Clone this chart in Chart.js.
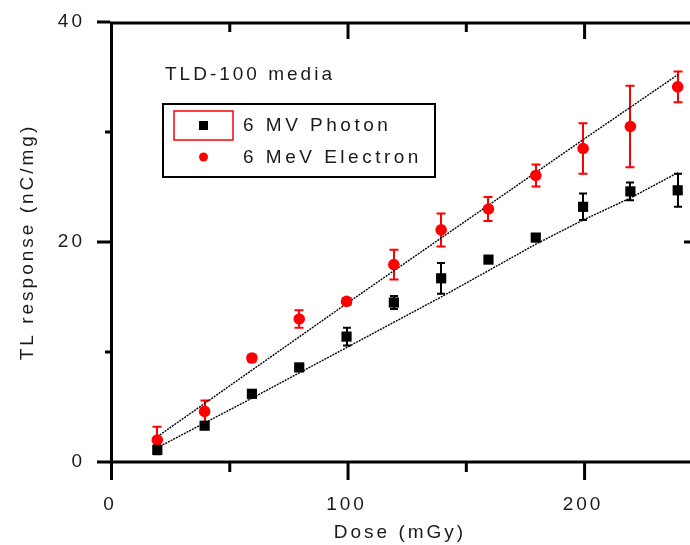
<!DOCTYPE html>
<html>
<head>
<meta charset="utf-8">
<script src="https://cdn.jsdelivr.net/npm/chart.js"></script>
<style>
  body { margin: 0; background: #fff; }
  #wrap { position: relative; width: 690px; height: 545px; }
</style>
</head>
<body>
<div id="wrap"><canvas id="grafico" width="690" height="545"></canvas></div>
<script>
// dados
const doses = [20, 40, 60, 80, 100, 120, 140, 160, 180, 200, 220, 240];
const photon = [1.1, 3.3, 6.2, 8.6, 11.4, 14.5, 16.7, 18.4, 20.4, 23.2, 24.6, 24.7];
const photonErr = [0.4, 0.2, 0.2, 0.3, 0.8, 0.6, 1.4, 0.3, 0.3, 1.2, 0.8, 1.5];
const electron = [2.0, 4.6, 9.45, 13.0, 14.6, 17.95, 21.1, 23.0, 26.05, 28.5, 30.5, 34.1];
const electronErr = [1.2, 1.0, 0.3, 0.8, 0.3, 1.35, 1.5, 1.1, 1.0, 2.3, 3.7, 1.4];

const photonFitX = [20, 60, 100, 140, 180, 200, 220, 240];
const photonFitY = [1.3, 5.8, 10.4, 15.0, 19.8, 22.0, 24.0, 26.3];
const electronFitX = [20, 100, 200, 240];
const electronFitY = [2.3, 14.4, 29.3, 35.2];

const xTicks = [0, 50, 100, 150, 200];
const xLabels = [0, 100, 200];
const yTicks = [0, 10, 20, 30, 40];
const yLabels = [0, 20, 40];

const legendTitle = 'TLD-100 media';
const fonte = 'Arial, "Liberation Sans", sans-serif';
const corTexto = '#1a1a1a';

function pontos(xs, ys) {
    return xs.map((x, i) => ({ x: x, y: ys[i] }));
}

// espaçamento entre letras, como na figura original
const espacamento = {
    id: 'espacamento',
    beforeDraw(chart) {
        chart.ctx.letterSpacing = '3px';
    }
};

// moldura e marcas dos eixos
const moldura = {
    id: 'moldura',
    afterDraw(chart) {
        const ctx = chart.ctx;
        const a = chart.chartArea;
        const sx = chart.scales.x;
        const sy = chart.scales.y;
        ctx.save();
        ctx.strokeStyle = '#000';
        ctx.lineWidth = 3;
        ctx.beginPath();
        ctx.moveTo(a.left + 1.5, a.top);
        ctx.lineTo(a.left + 1.5, a.bottom + 1.5);
        ctx.moveTo(a.left, a.bottom);
        ctx.lineTo(a.right, a.bottom);
        ctx.moveTo(a.left, a.top + 1);
        ctx.lineTo(a.right, a.top + 1);
        ctx.stroke();

        ctx.beginPath();
        yTicks.forEach(v => {
            const y = sy.getPixelForValue(v);
            const maior = yLabels.includes(v);
            ctx.moveTo(a.left - (maior ? 13 : 5), y);
            ctx.lineTo(a.left, y);
            if (maior && v > 0 && v < 40) {
                ctx.moveTo(a.right - 6, y);
                ctx.lineTo(a.right, y);
            }
        });
        xTicks.forEach(v => {
            const x = sx.getPixelForValue(v) + 1.5;
            const maior = xLabels.includes(v);
            ctx.moveTo(x, a.bottom);
            ctx.lineTo(x, a.bottom + (maior ? 18 : 10));
            if (v > 0) {
                ctx.moveTo(x, a.top);
                ctx.lineTo(x, a.top + (maior ? 17 : 10));
            }
        });
        ctx.stroke();
        ctx.restore();
    }
};

// barras de erro
const barrasErro = {
    id: 'barrasErro',
    beforeDatasetsDraw(chart) {
        const ctx = chart.ctx;
        const sx = chart.scales.x;
        const sy = chart.scales.y;
        const series = [
            { v: photon, e: photonErr, cor: '#000', cap: 4 },
            { v: electron, e: electronErr, cor: '#ff0000', cap: 4.5 }
        ];
        ctx.save();
        ctx.lineWidth = 2;
        series.forEach(s => {
            ctx.strokeStyle = s.cor;
            ctx.beginPath();
            doses.forEach((d, i) => {
                const x = Math.round(sx.getPixelForValue(d));
                const y1 = sy.getPixelForValue(s.v[i] + s.e[i]);
                const y2 = sy.getPixelForValue(s.v[i] - s.e[i]);
                ctx.moveTo(x, y1);
                ctx.lineTo(x, y2);
                ctx.moveTo(x - s.cap, y1);
                ctx.lineTo(x + s.cap, y1);
                ctx.moveTo(x - s.cap, y2);
                ctx.lineTo(x + s.cap, y2);
            });
            ctx.stroke();
        });
        ctx.restore();
    }
};

// legenda desenhada à mão, igual à figura
const legenda = {
    id: 'legenda',
    afterDraw(chart) {
        const ctx = chart.ctx;
        const ds = chart.data.datasets;
        ctx.save();
        ctx.font = '19px ' + fonte;
        ctx.fillStyle = corTexto;
        ctx.textBaseline = 'middle';
        ctx.textAlign = 'left';
        ctx.letterSpacing = '3px';
        ctx.fillText(legendTitle, 165, 75);

        ctx.lineWidth = 2;
        ctx.strokeStyle = '#000';
        ctx.strokeRect(163, 104, 272, 73);
        ctx.lineWidth = 1.5;
        ctx.strokeStyle = '#ff0000';
        ctx.strokeRect(174, 111, 59, 29);

        ctx.fillStyle = '#000';
        ctx.fillRect(199, 121, 9, 9);
        ctx.fillStyle = '#ff0000';
        ctx.beginPath();
        ctx.arc(203.5, 157, 4.5, 0, 2 * Math.PI);
        ctx.fill();

        ctx.fillStyle = corTexto;
        ctx.letterSpacing = '3.5px';
        ctx.fillText(ds[0].label, 243, 126);
        ctx.fillText(ds[1].label, 243, 158);
        ctx.restore();
    }
};

const chart = new Chart(document.getElementById('grafico').getContext('2d'), {
    type: 'scatter',
    data: {
        datasets: [
            {
                label: '6 MV Photon',
                data: pontos(doses, photon),
                backgroundColor: '#000',
                borderColor: '#000',
                borderWidth: 0,
                pointStyle: 'rect',
                pointRadius: 7.2
            },
            {
                label: '6 MeV Electron',
                data: pontos(doses, electron),
                backgroundColor: '#ff0000',
                borderColor: '#ff0000',
                borderWidth: 0,
                pointStyle: 'circle',
                pointRadius: 5.8
            },
            {
                label: 'fit photon',
                type: 'line',
                data: pontos(photonFitX, photonFitY),
                borderColor: '#000',
                borderWidth: 1.4,
                borderDash: [2, 1],
                pointRadius: 0,
                tension: 0
            },
            {
                label: 'fit electron',
                type: 'line',
                data: pontos(electronFitX, electronFitY),
                borderColor: '#000',
                borderWidth: 1.4,
                borderDash: [2, 1],
                pointRadius: 0,
                tension: 0
            }
        ]
    },
    options: {
        responsive: false,
        animation: false,
        layout: { autoPadding: false, padding: { top: 22, right: 0, left: 0, bottom: 0 } },
        plugins: {
            legend: { display: false },
            tooltip: { enabled: false }
        },
        scales: {
            x: {
                type: 'linear',
                min: 0,
                max: 245.2,
                afterBuildTicks: s => { s.ticks = xTicks.map(v => ({ value: v })); },
                afterFit: s => {
                    s.height = 83;
                    s.paddingLeft = 0;
                    s.paddingRight = 0;
                },
                grid: { display: false, drawTicks: false },
                border: { display: false },
                ticks: {
                    padding: 31,
                    maxRotation: 0,
                    color: corTexto,
                    font: { family: fonte, size: 19 },
                    callback: v => xLabels.includes(v) ? String(v) : ''
                },
                title: {
                    display: true,
                    text: 'Dose (mGy)',
                    color: corTexto,
                    font: { family: fonte, size: 19 },
                    padding: { top: 0, bottom: 1 }
                }
            },
            y: {
                min: 0,
                max: 40,
                afterBuildTicks: s => { s.ticks = yTicks.map(v => ({ value: v })); },
                afterFit: s => {
                    s.width = 110;
                    s.paddingTop = 0;
                    s.paddingBottom = 0;
                },
                grid: { display: false, drawTicks: false },
                border: { display: false },
                ticks: {
                    padding: 25,
                    color: corTexto,
                    font: { family: fonte, size: 19 },
                    callback: v => yLabels.includes(v) ? String(v) : ''
                },
                title: {
                    display: true,
                    text: 'TL response (nC/mg)',
                    color: corTexto,
                    font: { family: fonte, size: 19 },
                    padding: { top: 16, bottom: 0 }
                }
            }
        }
    },
    plugins: [espacamento, barrasErro, moldura, legenda]
});
</script>
</body>
</html>
